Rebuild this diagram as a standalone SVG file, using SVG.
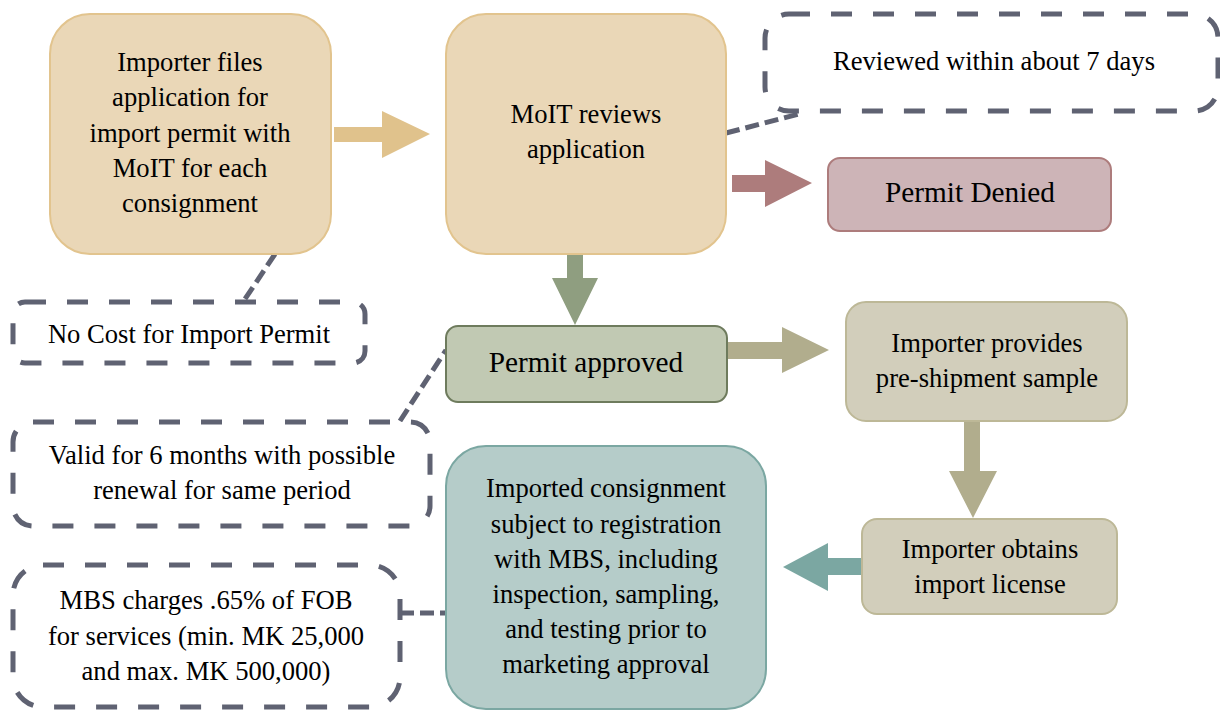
<svg xmlns="http://www.w3.org/2000/svg" width="1220" height="711" viewBox="0 0 1220 711">
<style>
text{font-family:'Liberation Serif','Times New Roman',serif;font-size:26.6px;fill:#000;text-anchor:middle}
text.big{font-size:29.3px}
.note{fill:#fff;stroke:#5F6272;stroke-width:5;stroke-dasharray:21 21}
.link{fill:none;stroke:#5F6272;stroke-width:5;stroke-dasharray:14 6}
.tan{fill:#EAD7B7;stroke:#E2C48E;stroke-width:2}
.khaki{fill:#D2CEBB;stroke:#BDB897;stroke-width:2}
</style>
<rect width="1220" height="711" fill="#fff"/>
<g id="connectors">
<polygon points="334,127 382,127 382,111 430,134 382,158 382,142 334,142" fill="#E0C28C"/>
<polygon points="732,175 765,175 765,160 812,183 765,207 765,192 732,192" fill="#AD7C7C"/>
<polygon points="567,254 583,254 583,278 598,278 575,325 552,278 567,278" fill="#8F9E80"/>
<polygon points="727,342 782,342 782,327 829,350 782,373 782,359 727,359" fill="#B1AD8D"/>
<polygon points="964,421 980,421 980,471 997,471 973,518 949,471 964,471" fill="#B1AD8D"/>
<polygon points="862,558 828,558 828,543 783,567 828,591 828,575 862,575" fill="#7BA7A2"/>
<path class="link" d="M275,254 L243,302"/>
<path class="link" d="M726,133 L803,113"/>
<path class="link" d="M400,421 L446,350"/>
<path class="link" d="M400,613 L446,613"/>
</g>
<g id="n1">
<rect class="tan" x="50" y="14" width="281" height="240" rx="40"/>
<text x="190" y="71">Importer files</text>
<text x="190" y="106">application for</text>
<text x="190" y="142">import permit with</text>
<text x="190" y="177">MoIT for each</text>
<text x="190" y="212">consignment</text>
</g>
<g id="n2">
<rect class="tan" x="446" y="14" width="280" height="240" rx="40"/>
<text x="586" y="123">MoIT reviews</text>
<text x="586" y="158">application</text>
</g>
<g id="note-review">
<rect class="note" x="765" y="14" width="453" height="97" rx="24"/>
<text x="994" y="70">Reviewed within about 7 days</text>
</g>
<g id="denied">
<rect x="828" y="158" width="283" height="73" rx="12" fill="#CDB4B7" stroke="#AD7C7C" stroke-width="2"/>
<text class="big" x="970" y="202">Permit Denied</text>
</g>
<g id="note-cost">
<rect class="note" x="13" y="302" width="352" height="61" rx="12"/>
<text x="189" y="343">No Cost for Import Permit</text>
</g>
<g id="approved">
<rect x="446" y="326" width="281" height="76" rx="12" fill="#C1C9B3" stroke="#6E7B5D" stroke-width="2"/>
<text class="big" x="586" y="372">Permit approved</text>
</g>
<g id="provides">
<rect class="khaki" x="846" y="302" width="281" height="119" rx="20"/>
<text x="987" y="352">Importer provides</text>
<text x="987" y="387">pre-shipment sample</text>
</g>
<g id="note-valid">
<rect class="note" x="13" y="422" width="417" height="104" rx="20"/>
<text x="222" y="464">Valid for 6 months with possible</text>
<text x="222" y="499">renewal for same period</text>
</g>
<g id="license">
<rect class="khaki" x="862" y="519" width="255" height="95" rx="15"/>
<text x="990" y="558">Importer obtains</text>
<text x="990" y="593">import license</text>
</g>
<g id="registration">
<rect x="446" y="446" width="320" height="263" rx="40" fill="#B5CCC9" stroke="#7BA7A2" stroke-width="2"/>
<text x="606" y="497">Imported consignment</text>
<text x="606" y="533">subject to registration</text>
<text x="606" y="568">with MBS, including</text>
<text x="606" y="603">inspection, sampling,</text>
<text x="606" y="638">and testing prior to</text>
<text x="606" y="673">marketing approval</text>
</g>
<g id="note-mbs">
<rect class="note" x="13" y="565" width="387" height="142" rx="30"/>
<text x="206" y="609">MBS charges .65% of FOB</text>
<text x="206" y="645">for services (min. MK 25,000</text>
<text x="206" y="680">and max. MK 500,000)</text>
</g>
</svg>
